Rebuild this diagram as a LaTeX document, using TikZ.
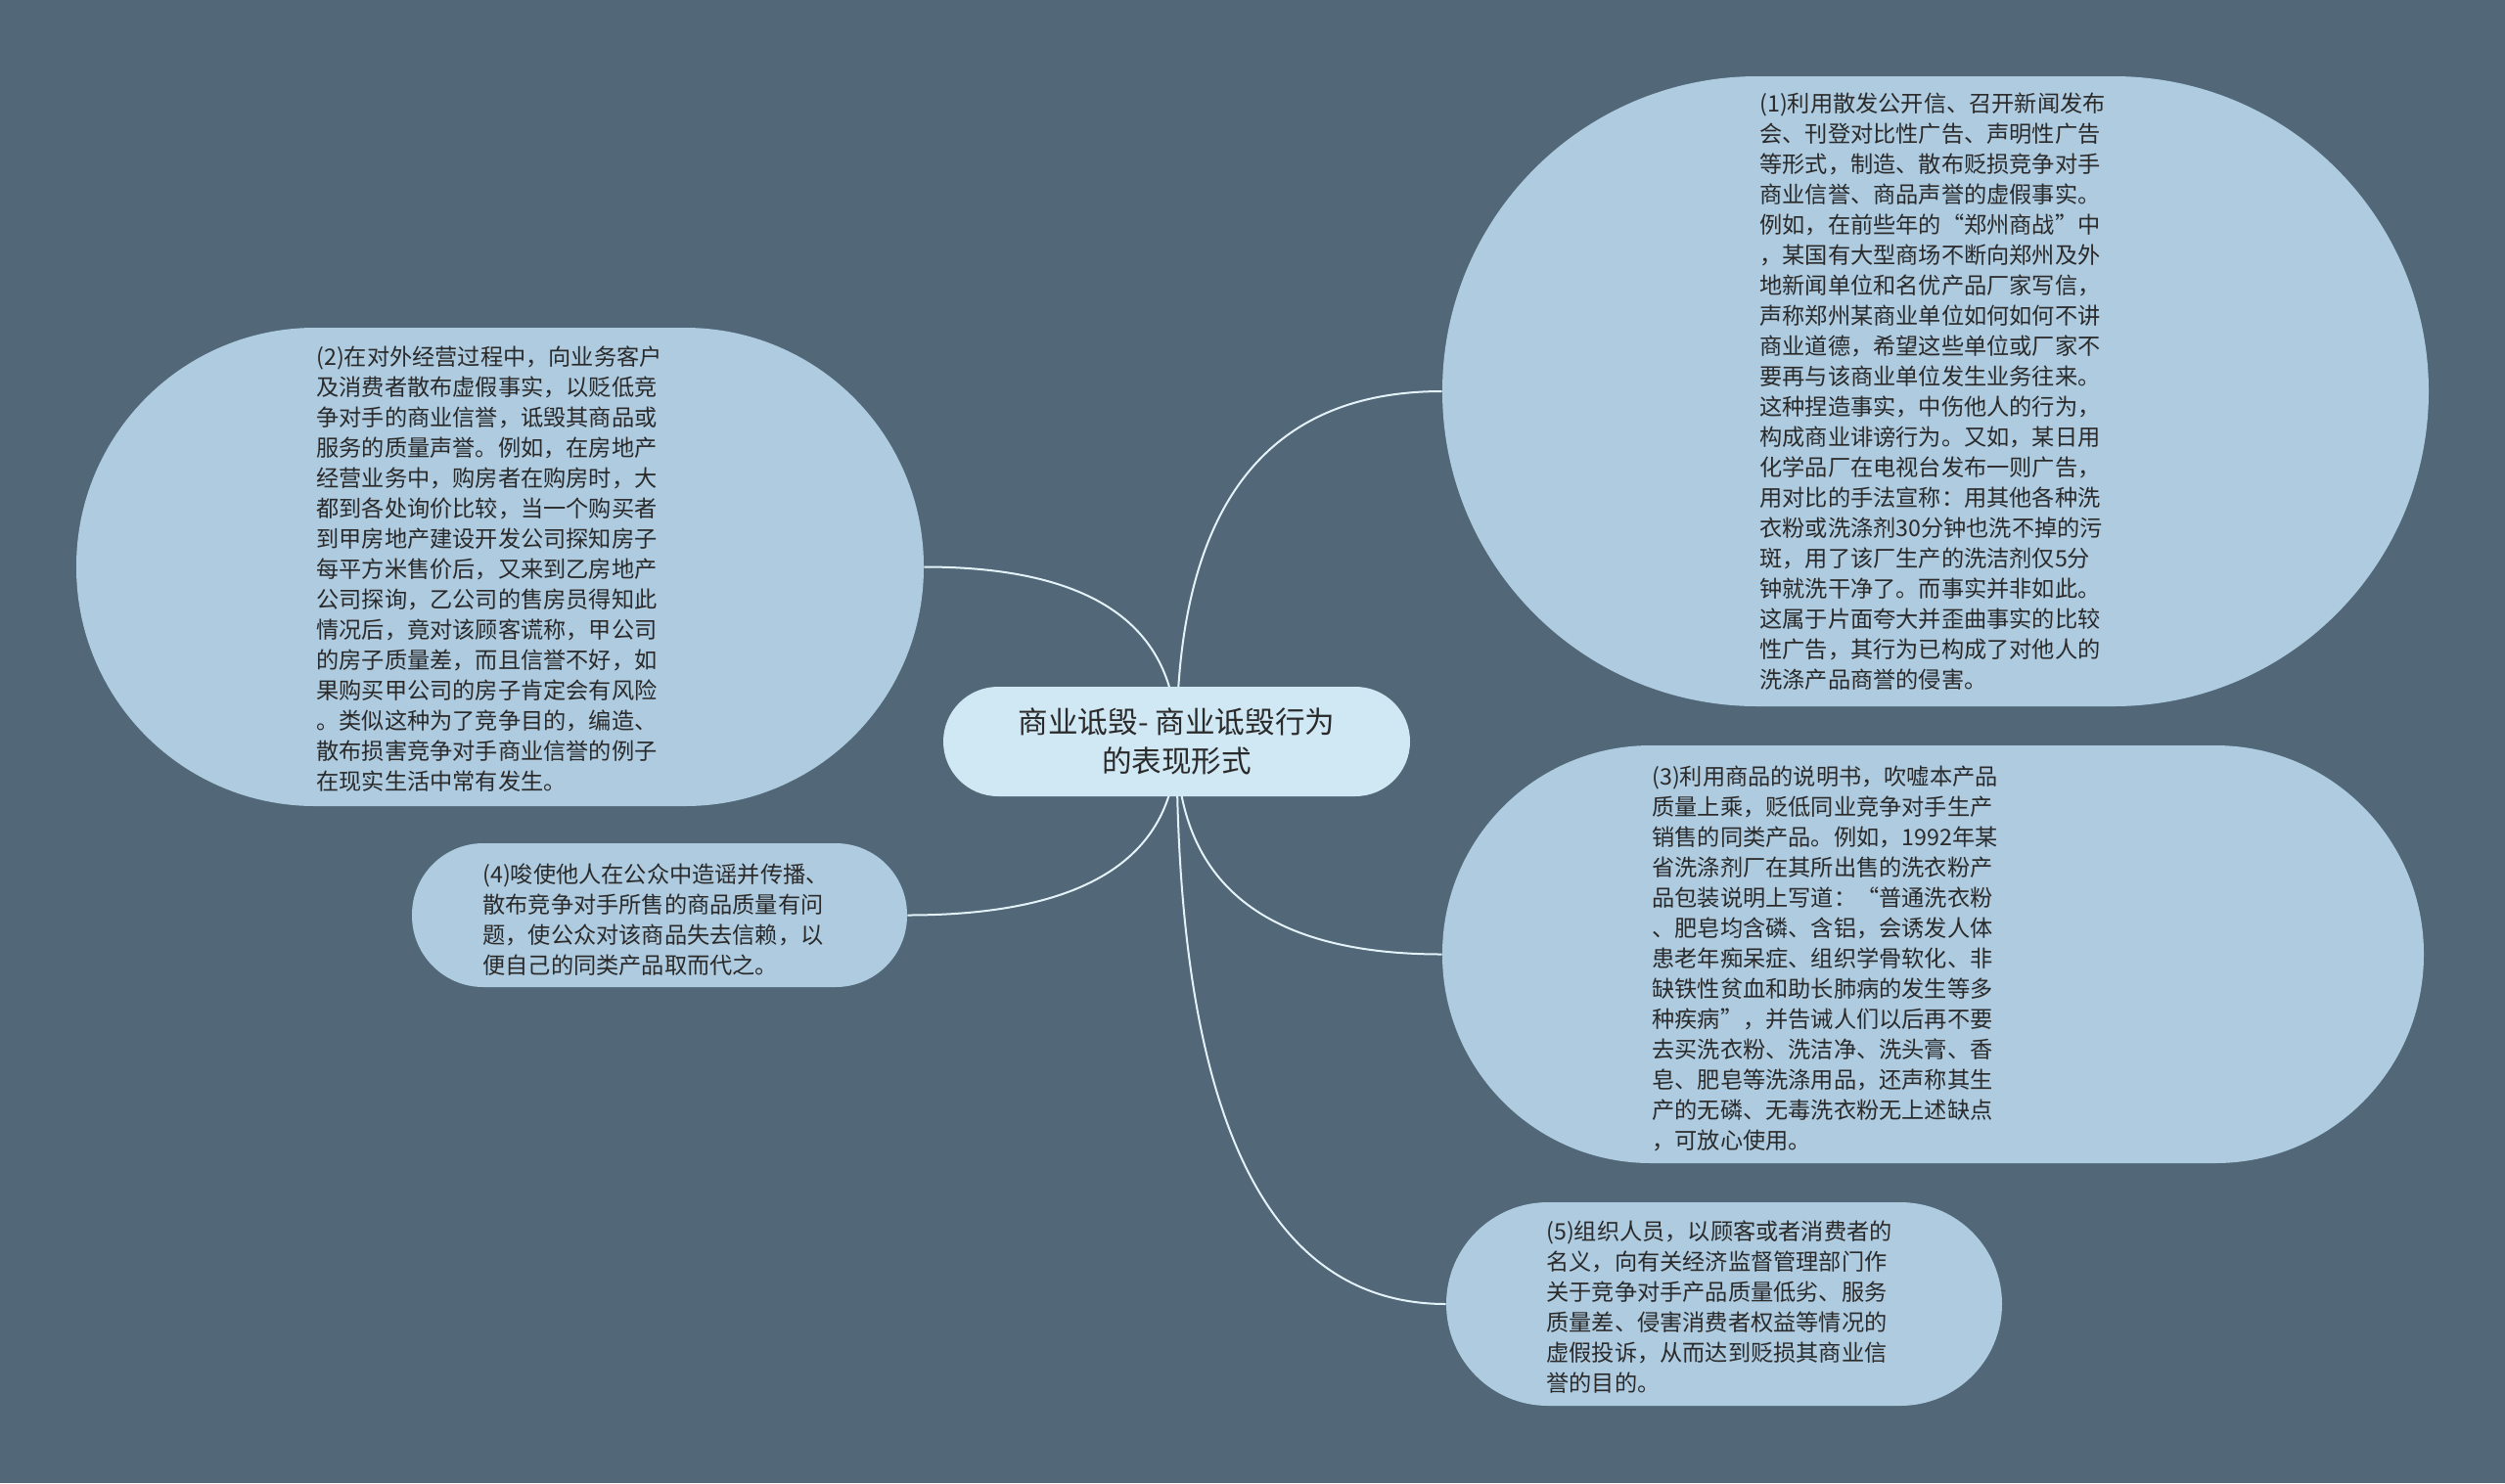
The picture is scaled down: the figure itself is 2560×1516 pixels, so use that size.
\documentclass[tikz,border=0pt]{standalone}
\usepackage{fontspec}
\setmainfont{Noto Sans CJK SC}
\usetikzlibrary{calc}
\definecolor{bgcol}{HTML}{526878}
\definecolor{nodefill}{HTML}{AECBE0}
\definecolor{rootfill}{HTML}{D0E7F4}
\definecolor{linkcol}{HTML}{E4F2FA}
\definecolor{txtcol}{HTML}{2A2A2A}
\pgfdeclarelayer{background}
\pgfsetlayers{background,main}
\newcommand{\mmlink}[2]{%
  \draw[linkline] (#1) .. controls ($(#1)!0.6667!(#1|-#2)$) and ($(#2)!0.6667!(#1|-#2)$) .. (#2);}
\begin{document}
\begin{tikzpicture}[x=0.5pt,y=-0.5pt,
  pill/.style={shape=rectangle, fill=nodefill, draw=none, inner sep=0pt},
  rootnode/.style={shape=rectangle, fill=rootfill, draw=none, inner sep=0pt, align=center,
    text=txtcol, font=\fontsize{15.3pt}{20pt}\selectfont},
  body/.style={font=\fontsize{11.6pt}{15.5pt}\selectfont, text=txtcol, align=left,
    inner sep=0pt, anchor=north west},
  linkline/.style={draw=linkcol, line width=1pt}]
\useasboundingbox (0,0) rectangle (2560,1516);
\begin{pgfonlayer}{background}
\fill[bgcol] (0,0) rectangle (2560,1516);
\end{pgfonlayer}

% root
\node[rootnode, minimum width=238.5pt, minimum height=56pt, rounded corners=28pt] (c) at (1202.5,758)
  {商业诋毁- 商业诋毁行为\\的表现形式};

% branch shapes
\node[pill, minimum width=504pt, minimum height=322pt, rounded corners=161pt] (n1) at (1978,400) {};
\node[pill, minimum width=433pt, minimum height=244.5pt, rounded corners=122pt] (n2) at (511,579.5) {};
\node[pill, minimum width=501.5pt, minimum height=213.5pt, rounded corners=106.5pt] (n3) at (1975.5,975.5) {};
\node[pill, minimum width=253pt, minimum height=73.5pt, rounded corners=36.5pt] (n4) at (674,935.5) {};
\node[pill, minimum width=284pt, minimum height=104pt, rounded corners=52pt] (n5) at (1762,1333) {};

% texts
\node[body] (t1) at (1798,95) {(1)利用散发公开信、召开新闻发布\\
会、刊登对比性广告、声明性广告\\
等形式，制造、散布贬损竞争对手\\
商业信誉、商品声誉的虚假事实。\\
例如，在前些年的“郑州商战”中\\
，某国有大型商场不断向郑州及外\\
地新闻单位和名优产品厂家写信，\\
声称郑州某商业单位如何如何不讲\\
商业道德，希望这些单位或厂家不\\
要再与该商业单位发生业务往来。\\
这种捏造事实，中伤他人的行为，\\
构成商业诽谤行为。又如，某日用\\
化学品厂在电视台发布一则广告，\\
用对比的手法宣称：用其他各种洗\\
衣粉或洗涤剂30分钟也洗不掉的污\\
斑，用了该厂生产的洗洁剂仅5分\\
钟就洗干净了。而事实并非如此。\\
这属于片面夸大并歪曲事实的比较\\
性广告，其行为已构成了对他人的\\
洗涤产品商誉的侵害。};

\node[body] (t2) at (323,353) {(2)在对外经营过程中，向业务客户\\
及消费者散布虚假事实，以贬低竞\\
争对手的商业信誉，诋毁其商品或\\
服务的质量声誉。例如，在房地产\\
经营业务中，购房者在购房时，大\\
都到各处询价比较，当一个购买者\\
到甲房地产建设开发公司探知房子\\
每平方米售价后，又来到乙房地产\\
公司探询，乙公司的售房员得知此\\
情况后，竟对该顾客谎称，甲公司\\
的房子质量差，而且信誉不好，如\\
果购买甲公司的房子肯定会有风险\\
。类似这种为了竞争目的，编造、\\
散布损害竞争对手商业信誉的例子\\
在现实生活中常有发生。};

\node[body] (t3) at (1688,783) {(3)利用商品的说明书，吹嘘本产品\\
质量上乘，贬低同业竞争对手生产\\
销售的同类产品。例如，1992年某\\
省洗涤剂厂在其所出售的洗衣粉产\\
品包装说明上写道：“普通洗衣粉\\
、肥皂均含磷、含铝，会诱发人体\\
患老年痴呆症、组织学骨软化、非\\
缺铁性贫血和助长肺病的发生等多\\
种疾病”，并告诫人们以后再不要\\
去买洗衣粉、洗洁净、洗头膏、香\\
皂、肥皂等洗涤用品，还声称其生\\
产的无磷、无毒洗衣粉无上述缺点\\
，可放心使用。};

\node[body] (t4) at (493,882) {(4)唆使他人在公众中造谣并传播、\\
散布竞争对手所售的商品质量有问\\
题，使公众对该商品失去信赖，以\\
便自己的同类产品取而代之。};

\node[body] (t5) at (1580,1247) {(5)组织人员，以顾客或者消费者的\\
名义，向有关经济监督管理部门作\\
关于竞争对手产品质量低劣、服务\\
质量差、侵害消费者权益等情况的\\
虚假投诉，从而达到贬损其商业信\\
誉的目的。};

% connectors (behind nodes)
\begin{pgfonlayer}{background}
\mmlink{c.center}{n1.west}
\mmlink{c.center}{n2.east}
\mmlink{c.center}{n3.west}
\mmlink{c.center}{n4.east}
\mmlink{c.center}{n5.west}
\end{pgfonlayer}
\end{tikzpicture}
\end{document}
